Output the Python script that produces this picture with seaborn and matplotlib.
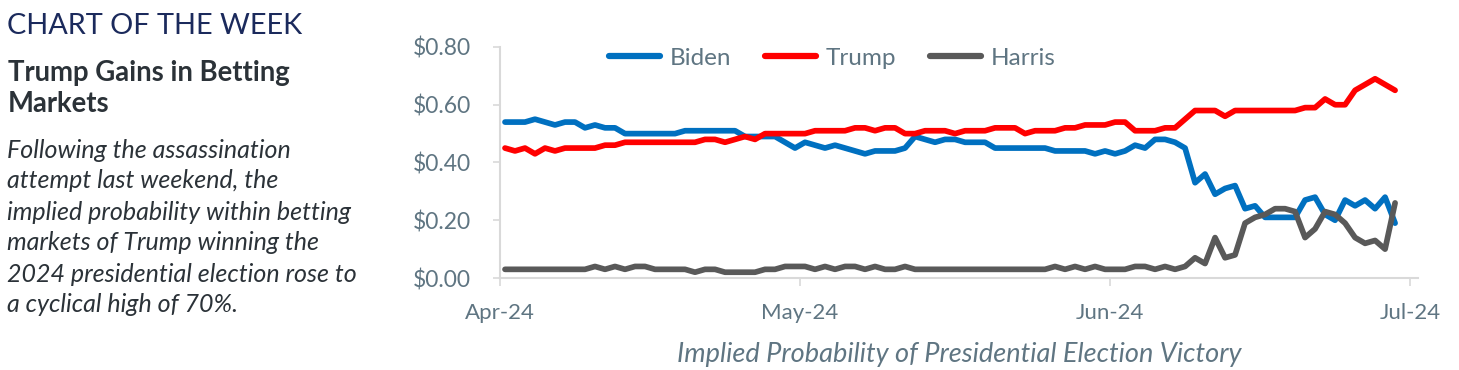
import matplotlib
matplotlib.use("Agg")
import matplotlib.pyplot as plt
import matplotlib.dates as mdates
import matplotlib.ticker as mticker
import pandas as pd
import seaborn as sns

# daily readings, Apr-24 to end of Jun-24
dates = pd.date_range("2024-04-01 12:00", periods=90, freq="D")

biden = [0.54, 0.54, 0.54, 0.55, 0.54, 0.53, 0.54, 0.54, 0.52, 0.53,
         0.52, 0.52, 0.50, 0.50, 0.50, 0.50, 0.50, 0.50, 0.51, 0.51,
         0.51, 0.51, 0.51, 0.51, 0.49, 0.49, 0.49, 0.49, 0.47, 0.45,
         0.47, 0.46, 0.45, 0.46, 0.45, 0.44, 0.43, 0.44, 0.44, 0.44,
         0.45, 0.49, 0.48, 0.47, 0.48, 0.48, 0.47, 0.47, 0.47, 0.45,
         0.45, 0.45, 0.45, 0.45, 0.45, 0.44, 0.44, 0.44, 0.44, 0.43,
         0.44, 0.43, 0.44, 0.46, 0.45, 0.48, 0.48, 0.47, 0.45, 0.33,
         0.36, 0.29, 0.31, 0.32, 0.24, 0.25, 0.21, 0.21, 0.21, 0.21,
         0.27, 0.28, 0.22, 0.20, 0.27, 0.25, 0.27, 0.24, 0.28, 0.19]

trump = [0.45, 0.44, 0.45, 0.43, 0.45, 0.44, 0.45, 0.45, 0.45, 0.45,
         0.46, 0.46, 0.47, 0.47, 0.47, 0.47, 0.47, 0.47, 0.47, 0.47,
         0.48, 0.48, 0.47, 0.48, 0.49, 0.48, 0.50, 0.50, 0.50, 0.50,
         0.50, 0.51, 0.51, 0.51, 0.51, 0.52, 0.52, 0.51, 0.52, 0.52,
         0.50, 0.50, 0.51, 0.51, 0.51, 0.50, 0.51, 0.51, 0.51, 0.52,
         0.52, 0.52, 0.50, 0.51, 0.51, 0.51, 0.52, 0.52, 0.53, 0.53,
         0.53, 0.54, 0.54, 0.51, 0.51, 0.51, 0.52, 0.52, 0.55, 0.58,
         0.58, 0.58, 0.56, 0.58, 0.58, 0.58, 0.58, 0.58, 0.58, 0.58,
         0.59, 0.59, 0.62, 0.60, 0.60, 0.65, 0.67, 0.69, 0.67, 0.65]

harris = [0.03, 0.03, 0.03, 0.03, 0.03, 0.03, 0.03, 0.03, 0.03, 0.04,
          0.03, 0.04, 0.03, 0.04, 0.04, 0.03, 0.03, 0.03, 0.03, 0.02,
          0.03, 0.03, 0.02, 0.02, 0.02, 0.02, 0.03, 0.03, 0.04, 0.04,
          0.04, 0.03, 0.04, 0.03, 0.04, 0.04, 0.03, 0.04, 0.03, 0.03,
          0.04, 0.03, 0.03, 0.03, 0.03, 0.03, 0.03, 0.03, 0.03, 0.03,
          0.03, 0.03, 0.03, 0.03, 0.03, 0.04, 0.03, 0.04, 0.03, 0.04,
          0.03, 0.03, 0.03, 0.04, 0.04, 0.03, 0.04, 0.03, 0.04, 0.07,
          0.05, 0.14, 0.07, 0.08, 0.19, 0.21, 0.22, 0.24, 0.24, 0.23,
          0.14, 0.17, 0.23, 0.22, 0.19, 0.14, 0.12, 0.13, 0.10, 0.26]

candidates = ["Biden", "Trump", "Harris"]
colors = {"Biden": "#0070C0", "Trump": "#FF0000", "Harris": "#595959"}

paragraph = ["Following the assassination",
             "attempt last weekend, the",
             "implied probability within betting",
             "markets of Trump winning the",
             "2024 presidential election rose to",
             "a cyclical high of 70%."]

df = pd.DataFrame({"date": dates, "Biden": biden, "Trump": trump, "Harris": harris})
long_df = df.melt(id_vars="date", value_vars=candidates, var_name="candidate", value_name="price")

sns.set_style("white")
plt.rcParams["font.family"] = ["Lato", "DejaVu Sans"]

slate = "#5F7582"
grid_gray = "#D9D9D9"
W, H = 1459, 370

fig = plt.figure(figsize=(W / 100, H / 100), dpi=100)
ax = fig.add_axes([500 / W, 1 - 278 / H, (1418 - 500) / W, (278 - 47) / H])

sns.lineplot(data=long_df, x="date", y="price", hue="candidate", hue_order=candidates,
             palette=colors, linewidth=4.1, ax=ax, legend=False)

ax.set_ylim(0, 0.8)
ax.set_xlim(pd.Timestamp("2024-04-01"), pd.Timestamp("2024-07-01 19:00"))
ax.yaxis.set_major_locator(mticker.MultipleLocator(0.2))
ax.yaxis.set_major_formatter(mticker.FuncFormatter(lambda v, p: f"${v:.2f}"))
ax.xaxis.set_major_locator(mdates.MonthLocator())
ax.xaxis.set_major_formatter(mdates.DateFormatter("%b-%y"))

for s in ["top", "right"]:
    ax.spines[s].set_visible(False)
for s in ["left", "bottom"]:
    ax.spines[s].set_color(grid_gray)
    ax.spines[s].set_linewidth(1.5)

ax.tick_params(axis="y", direction="out", length=5, width=1.2, color=grid_gray,
               labelsize=16.5, labelcolor=slate, pad=16, left=True)
ax.tick_params(axis="x", direction="out", length=6, width=1.2, color=grid_gray,
               labelsize=16, labelcolor=slate, pad=12, bottom=True)
ax.set_ylabel("")
ax.set_xlabel("Implied Probability of Presidential Election Victory", fontsize=19.5,
              style="italic", color=slate, labelpad=14)

handles = [plt.Line2D([], [], color=colors[c], linewidth=4.5) for c in candidates]
leg = ax.legend(handles, candidates, loc="center", bbox_to_anchor=(0.362, 0.952), ncol=3,
                frameon=False, fontsize=17.5, handlelength=2.1, handletextpad=0.4,
                columnspacing=1.4)
for t in leg.get_texts():
    t.set_color(slate)

# left text panel
fig.text(7 / W, 1 - 26 / H, "CHART OF THE WEEK", fontsize=20.8, color="#1B2A5C",
         va="center", ha="left")
fig.text(8 / W, 1 - 73 / H, "Trump Gains in Betting", fontsize=19.8, color="#2B3238",
         fontweight="bold", va="center", ha="left")
fig.text(8 / W, 1 - 104 / H, "Markets", fontsize=19.8, color="#2B3238",
         fontweight="bold", va="center", ha="left")
for i, line in enumerate(paragraph):
    fig.text(7 / W, 1 - (150 + 31 * i) / H, line, fontsize=18, color="#2B3238",
             style="italic", va="center", ha="left")

fig.savefig("out.png", dpi=100, facecolor="white")
